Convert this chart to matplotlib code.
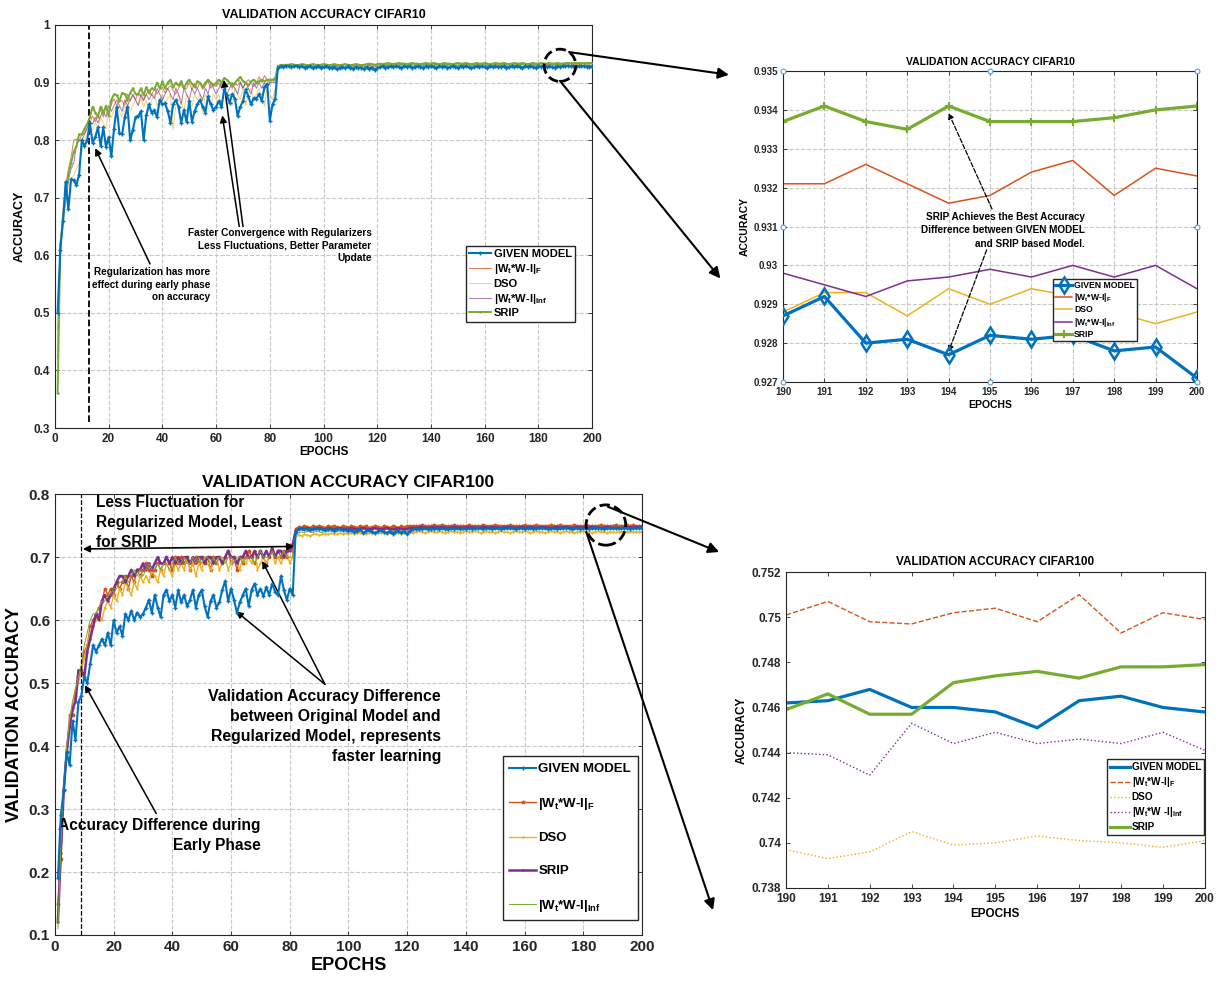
import numpy as np
import matplotlib
matplotlib.use('Agg')
import matplotlib.pyplot as plt
from matplotlib.patches import Ellipse, ConnectionPatch
from matplotlib.ticker import FormatStrFormatter

plt.rcParams['font.family'] = ['Liberation Sans', 'DejaVu Sans']
plt.rcParams['font.weight'] = 'bold'
plt.rcParams['axes.titleweight'] = 'bold'
plt.rcParams['axes.labelweight'] = 'bold'
plt.rcParams['mathtext.fontset'] = 'custom'
plt.rcParams['mathtext.rm'] = 'Liberation Sans'
plt.rcParams['mathtext.bf'] = 'Liberation Sans:bold'
plt.rcParams['mathtext.default'] = 'bf'

# ---------------- data (epochs 1..200, 10 values per row) ----------------
epochs = np.arange(1, 201)

c10_given = [
    0.500, 0.610, 0.660, 0.728, 0.680, 0.732, 0.730, 0.722, 0.740, 0.800,
    0.790, 0.800, 0.830, 0.795, 0.805, 0.822, 0.790, 0.822, 0.788, 0.805,
    0.772, 0.820, 0.857, 0.812, 0.810, 0.840, 0.858, 0.800, 0.818, 0.840,
    0.842, 0.850, 0.800, 0.843, 0.862, 0.848, 0.852, 0.840, 0.870, 0.862,
    0.864, 0.850, 0.830, 0.862, 0.870, 0.858, 0.830, 0.852, 0.832, 0.868,
    0.832, 0.850, 0.862, 0.870, 0.858, 0.848, 0.876, 0.862, 0.852, 0.858,
    0.868, 0.857, 0.888, 0.878, 0.865, 0.880, 0.872, 0.842, 0.858, 0.868,
    0.888, 0.876, 0.862, 0.873, 0.872, 0.880, 0.868, 0.892, 0.898, 0.834,
    0.862, 0.872, 0.926, 0.928, 0.927, 0.929, 0.928, 0.927, 0.928, 0.929,
    0.927, 0.928, 0.926, 0.927, 0.928, 0.925, 0.927, 0.928, 0.926, 0.927,
    0.928, 0.926, 0.925, 0.927, 0.923, 0.926, 0.927, 0.925, 0.928, 0.926,
    0.924, 0.927, 0.925, 0.926, 0.923, 0.927, 0.924, 0.926, 0.922, 0.925,
    0.927, 0.928, 0.926, 0.927, 0.928, 0.927, 0.928, 0.927, 0.926, 0.928,
    0.927, 0.928, 0.926, 0.927, 0.928, 0.927, 0.926, 0.928, 0.927, 0.928,
    0.927, 0.926, 0.928, 0.927, 0.928, 0.926, 0.927, 0.928, 0.927, 0.926,
    0.928, 0.927, 0.928, 0.927, 0.926, 0.927, 0.928, 0.927, 0.928, 0.927,
    0.926, 0.928, 0.927, 0.928, 0.927, 0.927, 0.928, 0.926, 0.927, 0.928,
    0.927, 0.928, 0.927, 0.926, 0.928, 0.927, 0.928, 0.927, 0.926, 0.928,
    0.927, 0.928, 0.927, 0.928, 0.927, 0.926, 0.928, 0.927, 0.928, 0.9287,
    0.9292, 0.9280, 0.9281, 0.9277, 0.9282, 0.9281, 0.9282, 0.9278, 0.9279, 0.9271,
]
c10_frob = [
    0.470, 0.620, 0.680, 0.720, 0.750, 0.770, 0.800, 0.802, 0.798, 0.810,
    0.812, 0.822, 0.830, 0.842, 0.832, 0.845, 0.852, 0.840, 0.858, 0.850,
    0.862, 0.872, 0.860, 0.870, 0.868, 0.860, 0.880, 0.868, 0.878, 0.870,
    0.882, 0.876, 0.868, 0.880, 0.888, 0.878, 0.890, 0.880, 0.888, 0.892,
    0.882, 0.890, 0.895, 0.886, 0.880, 0.890, 0.898, 0.888, 0.890, 0.900,
    0.888, 0.898, 0.890, 0.900, 0.888, 0.895, 0.902, 0.890, 0.898, 0.893,
    0.900, 0.890, 0.902, 0.895, 0.900, 0.890, 0.898, 0.895, 0.902, 0.890,
    0.900, 0.905, 0.898, 0.893, 0.900, 0.910, 0.900, 0.912, 0.905, 0.900,
    0.905, 0.910, 0.929, 0.931, 0.930, 0.932, 0.931, 0.930, 0.932, 0.931,
    0.930, 0.931, 0.932, 0.930, 0.931, 0.929, 0.931, 0.932, 0.930, 0.931,
    0.932, 0.930, 0.931, 0.930, 0.929, 0.931, 0.930, 0.932, 0.931, 0.930,
    0.931, 0.930, 0.932, 0.931, 0.930, 0.931, 0.929, 0.931, 0.930, 0.931,
    0.932, 0.931, 0.932, 0.931, 0.932, 0.933, 0.932, 0.931, 0.932, 0.932,
    0.931, 0.932, 0.933, 0.932, 0.931, 0.932, 0.932, 0.933, 0.931, 0.932,
    0.932, 0.931, 0.932, 0.933, 0.932, 0.932, 0.931, 0.932, 0.932, 0.933,
    0.932, 0.931, 0.932, 0.932, 0.933, 0.932, 0.931, 0.932, 0.933, 0.932,
    0.932, 0.931, 0.932, 0.933, 0.932, 0.932, 0.931, 0.932, 0.932, 0.933,
    0.932, 0.932, 0.931, 0.932, 0.933, 0.932, 0.932, 0.931, 0.932, 0.932,
    0.933, 0.932, 0.931, 0.932, 0.932, 0.933, 0.932, 0.931, 0.932, 0.9321,
    0.9321, 0.9326, 0.9321, 0.9316, 0.9318, 0.9324, 0.9327, 0.9318, 0.9325, 0.9323,
]
c10_dso = [
    0.450, 0.600, 0.660, 0.700, 0.720, 0.730, 0.740, 0.750, 0.760, 0.780,
    0.800, 0.810, 0.820, 0.818, 0.830, 0.822, 0.840, 0.830, 0.820, 0.850,
    0.840, 0.852, 0.860, 0.850, 0.840, 0.862, 0.870, 0.850, 0.860, 0.870,
    0.860, 0.872, 0.858, 0.868, 0.850, 0.870, 0.880, 0.860, 0.870, 0.880,
    0.862, 0.872, 0.880, 0.818, 0.860, 0.880, 0.870, 0.850, 0.880, 0.868,
    0.858, 0.880, 0.870, 0.880, 0.848, 0.880, 0.870, 0.860, 0.880, 0.870,
    0.880, 0.860, 0.890, 0.870, 0.880, 0.860, 0.890, 0.880, 0.870, 0.890,
    0.860, 0.880, 0.890, 0.870, 0.880, 0.890, 0.870, 0.860, 0.890, 0.880,
    0.870, 0.890, 0.927, 0.929, 0.928, 0.929, 0.930, 0.928, 0.929, 0.928,
    0.929, 0.930, 0.928, 0.929, 0.928, 0.929, 0.927, 0.929, 0.928, 0.929,
    0.928, 0.929, 0.927, 0.928, 0.929, 0.928, 0.929, 0.927, 0.928, 0.929,
    0.928, 0.929, 0.928, 0.927, 0.929, 0.928, 0.929, 0.928, 0.927, 0.929,
    0.929, 0.930, 0.929, 0.928, 0.929, 0.930, 0.929, 0.929, 0.928, 0.929,
    0.930, 0.929, 0.928, 0.929, 0.930, 0.929, 0.929, 0.928, 0.929, 0.930,
    0.929, 0.928, 0.929, 0.930, 0.929, 0.929, 0.928, 0.929, 0.930, 0.929,
    0.929, 0.928, 0.930, 0.929, 0.929, 0.928, 0.929, 0.930, 0.929, 0.928,
    0.929, 0.930, 0.929, 0.928, 0.929, 0.929, 0.930, 0.929, 0.928, 0.929,
    0.930, 0.929, 0.929, 0.928, 0.929, 0.930, 0.929, 0.928, 0.929, 0.929,
    0.930, 0.929, 0.928, 0.929, 0.929, 0.930, 0.929, 0.928, 0.929, 0.9288,
    0.9293, 0.9293, 0.9287, 0.9294, 0.9290, 0.9294, 0.9292, 0.9288, 0.9285, 0.9288,
]
c10_inf = [
    0.420, 0.610, 0.670, 0.700, 0.730, 0.750, 0.760, 0.790, 0.800, 0.800,
    0.810, 0.820, 0.830, 0.828, 0.840, 0.830, 0.842, 0.850, 0.840, 0.860,
    0.850, 0.860, 0.870, 0.860, 0.850, 0.870, 0.860, 0.870, 0.880, 0.870,
    0.860, 0.880, 0.870, 0.880, 0.870, 0.880, 0.872, 0.890, 0.880, 0.870,
    0.880, 0.890, 0.880, 0.870, 0.890, 0.880, 0.862, 0.890, 0.880, 0.870,
    0.890, 0.880, 0.890, 0.880, 0.870, 0.890, 0.880, 0.900, 0.890, 0.880,
    0.890, 0.900, 0.890, 0.880, 0.890, 0.900, 0.890, 0.880, 0.900, 0.890,
    0.900, 0.890, 0.880, 0.900, 0.890, 0.900, 0.890, 0.900, 0.890, 0.900,
    0.900, 0.900, 0.925, 0.927, 0.928, 0.927, 0.929, 0.928, 0.927, 0.928,
    0.929, 0.928, 0.927, 0.928, 0.929, 0.927, 0.928, 0.929, 0.928, 0.927,
    0.928, 0.929, 0.928, 0.927, 0.928, 0.929, 0.928, 0.927, 0.929, 0.928,
    0.927, 0.928, 0.929, 0.928, 0.927, 0.928, 0.929, 0.928, 0.927, 0.928,
    0.929, 0.930, 0.929, 0.930, 0.929, 0.930, 0.929, 0.930, 0.931, 0.930,
    0.929, 0.930, 0.931, 0.930, 0.929, 0.930, 0.930, 0.931, 0.930, 0.929,
    0.930, 0.931, 0.930, 0.929, 0.930, 0.930, 0.931, 0.930, 0.929, 0.930,
    0.930, 0.929, 0.930, 0.931, 0.930, 0.930, 0.929, 0.930, 0.931, 0.930,
    0.929, 0.930, 0.930, 0.931, 0.930, 0.929, 0.930, 0.930, 0.931, 0.930,
    0.930, 0.929, 0.930, 0.931, 0.930, 0.930, 0.929, 0.930, 0.930, 0.931,
    0.930, 0.929, 0.930, 0.930, 0.931, 0.930, 0.929, 0.930, 0.930, 0.9298,
    0.9295, 0.9292, 0.9296, 0.9297, 0.9299, 0.9297, 0.9300, 0.9297, 0.9300, 0.9294,
]
c10_srip = [
    0.360, 0.620, 0.660, 0.700, 0.740, 0.760, 0.780, 0.790, 0.810, 0.810,
    0.820, 0.828, 0.840, 0.858, 0.848, 0.840, 0.858, 0.848, 0.860, 0.842,
    0.870, 0.880, 0.878, 0.868, 0.882, 0.880, 0.870, 0.882, 0.890, 0.880,
    0.880, 0.890, 0.878, 0.892, 0.882, 0.890, 0.888, 0.900, 0.890, 0.902,
    0.890, 0.900, 0.905, 0.892, 0.900, 0.895, 0.902, 0.890, 0.900, 0.905,
    0.898, 0.892, 0.902, 0.900, 0.892, 0.900, 0.905, 0.900, 0.895, 0.900,
    0.905, 0.900, 0.908, 0.905, 0.900, 0.895, 0.900, 0.905, 0.910, 0.902,
    0.900, 0.895, 0.902, 0.905, 0.900, 0.902, 0.905, 0.902, 0.905, 0.905,
    0.905, 0.906, 0.929, 0.930, 0.931, 0.930, 0.931, 0.932, 0.931, 0.930,
    0.931, 0.932, 0.931, 0.930, 0.931, 0.932, 0.931, 0.930, 0.931, 0.932,
    0.931, 0.930, 0.931, 0.932, 0.931, 0.930, 0.931, 0.932, 0.931, 0.930,
    0.931, 0.932, 0.931, 0.930, 0.931, 0.932, 0.933, 0.932, 0.931, 0.932,
    0.933, 0.932, 0.933, 0.934, 0.933, 0.932, 0.933, 0.934, 0.933, 0.933,
    0.932, 0.933, 0.934, 0.933, 0.933, 0.932, 0.933, 0.934, 0.933, 0.933,
    0.934, 0.933, 0.932, 0.933, 0.934, 0.933, 0.933, 0.932, 0.933, 0.934,
    0.933, 0.933, 0.934, 0.933, 0.932, 0.933, 0.934, 0.933, 0.933, 0.934,
    0.933, 0.932, 0.933, 0.934, 0.933, 0.933, 0.934, 0.933, 0.932, 0.933,
    0.934, 0.933, 0.933, 0.934, 0.933, 0.932, 0.933, 0.934, 0.933, 0.933,
    0.934, 0.933, 0.933, 0.934, 0.933, 0.933, 0.934, 0.933, 0.933, 0.9337,
    0.9341, 0.9337, 0.9335, 0.9341, 0.9337, 0.9337, 0.9337, 0.9338, 0.9340, 0.9341,
]

c100_given = [
    0.190, 0.290, 0.330, 0.390, 0.370, 0.440, 0.410, 0.470, 0.480, 0.510,
    0.500, 0.530, 0.560, 0.550, 0.560, 0.570, 0.560, 0.580, 0.560, 0.600,
    0.580, 0.590, 0.575, 0.610, 0.600, 0.615, 0.600, 0.612, 0.605, 0.610,
    0.620, 0.632, 0.612, 0.640, 0.620, 0.605, 0.640, 0.648, 0.630, 0.640,
    0.620, 0.648, 0.628, 0.640, 0.622, 0.632, 0.648, 0.620, 0.640, 0.648,
    0.622, 0.605, 0.630, 0.640, 0.620, 0.628, 0.648, 0.662, 0.630, 0.650,
    0.632, 0.612, 0.628, 0.640, 0.650, 0.622, 0.648, 0.658, 0.640, 0.650,
    0.638, 0.652, 0.640, 0.658, 0.645, 0.640, 0.670, 0.648, 0.632, 0.650,
    0.640, 0.740, 0.745, 0.746, 0.744, 0.745, 0.743, 0.745, 0.746, 0.744,
    0.745, 0.743, 0.744, 0.745, 0.742, 0.744, 0.745, 0.743, 0.744, 0.742,
    0.743, 0.740, 0.742, 0.744, 0.739, 0.741, 0.743, 0.740, 0.738, 0.741,
    0.743, 0.740, 0.738, 0.741, 0.737, 0.740, 0.742, 0.739, 0.741, 0.736,
    0.742, 0.744, 0.745, 0.744, 0.745, 0.746, 0.745, 0.744, 0.745, 0.746,
    0.745, 0.746, 0.745, 0.744, 0.746, 0.745, 0.746, 0.745, 0.746, 0.745,
    0.746, 0.745, 0.746, 0.747, 0.746, 0.745, 0.746, 0.746, 0.745, 0.746,
    0.746, 0.745, 0.746, 0.746, 0.747, 0.746, 0.745, 0.746, 0.746, 0.745,
    0.746, 0.746, 0.745, 0.746, 0.747, 0.746, 0.746, 0.745, 0.746, 0.746,
    0.745, 0.746, 0.746, 0.747, 0.746, 0.745, 0.746, 0.746, 0.745, 0.746,
    0.746, 0.745, 0.746, 0.746, 0.747, 0.746, 0.745, 0.746, 0.746, 0.7462,
    0.7463, 0.7468, 0.7460, 0.7460, 0.7458, 0.7451, 0.7463, 0.7465, 0.7460, 0.7458,
]
c100_frob = [
    0.150, 0.220, 0.330, 0.390, 0.450, 0.450, 0.480, 0.510, 0.520, 0.550,
    0.560, 0.590, 0.600, 0.610, 0.620, 0.630, 0.650, 0.640, 0.650, 0.640,
    0.660, 0.650, 0.660, 0.670, 0.650, 0.670, 0.660, 0.680, 0.670, 0.680,
    0.690, 0.680, 0.670, 0.680, 0.690, 0.680, 0.690, 0.700, 0.690, 0.680,
    0.700, 0.690, 0.700, 0.690, 0.700, 0.680, 0.690, 0.700, 0.690, 0.700,
    0.690, 0.700, 0.680, 0.700, 0.690, 0.700, 0.690, 0.700, 0.710, 0.690,
    0.700, 0.680, 0.700, 0.690, 0.700, 0.710, 0.700, 0.690, 0.700, 0.710,
    0.700, 0.690, 0.700, 0.710, 0.700, 0.710, 0.700, 0.710, 0.700, 0.720,
    0.710, 0.745, 0.748, 0.747, 0.749, 0.748, 0.747, 0.749, 0.748, 0.750,
    0.748, 0.747, 0.749, 0.748, 0.750, 0.748, 0.747, 0.749, 0.748, 0.747,
    0.749, 0.748, 0.747, 0.749, 0.748, 0.750, 0.747, 0.748, 0.749, 0.748,
    0.747, 0.749, 0.748, 0.747, 0.749, 0.748, 0.747, 0.749, 0.748, 0.749,
    0.749, 0.750, 0.749, 0.750, 0.751, 0.750, 0.749, 0.750, 0.751, 0.750,
    0.750, 0.751, 0.750, 0.749, 0.750, 0.751, 0.750, 0.750, 0.749, 0.750,
    0.751, 0.750, 0.750, 0.749, 0.750, 0.751, 0.750, 0.749, 0.750, 0.751,
    0.750, 0.750, 0.749, 0.750, 0.751, 0.750, 0.750, 0.749, 0.750, 0.751,
    0.750, 0.749, 0.750, 0.751, 0.750, 0.750, 0.749, 0.750, 0.751, 0.750,
    0.750, 0.751, 0.750, 0.749, 0.750, 0.750, 0.751, 0.750, 0.749, 0.750,
    0.751, 0.750, 0.750, 0.749, 0.750, 0.751, 0.750, 0.750, 0.749, 0.7501,
    0.7507, 0.7498, 0.7497, 0.7502, 0.7504, 0.7498, 0.7510, 0.7493, 0.7502, 0.7499,
]
c100_dso = [
    0.140, 0.250, 0.340, 0.400, 0.440, 0.470, 0.490, 0.500, 0.520, 0.540,
    0.560, 0.580, 0.590, 0.600, 0.610, 0.600, 0.620, 0.630, 0.620, 0.640,
    0.630, 0.650, 0.640, 0.660, 0.650, 0.640, 0.660, 0.650, 0.670, 0.660,
    0.670, 0.660, 0.680, 0.670, 0.660, 0.680, 0.670, 0.690, 0.680, 0.670,
    0.690, 0.680, 0.690, 0.680, 0.700, 0.680, 0.690, 0.670, 0.690, 0.680,
    0.700, 0.690, 0.680, 0.690, 0.700, 0.680, 0.690, 0.700, 0.680, 0.690,
    0.700, 0.690, 0.680, 0.700, 0.690, 0.700, 0.690, 0.710, 0.680, 0.690,
    0.700, 0.690, 0.700, 0.710, 0.690, 0.700, 0.690, 0.700, 0.710, 0.690,
    0.700, 0.733, 0.735, 0.734, 0.736, 0.735, 0.734, 0.736, 0.737, 0.735,
    0.736, 0.737, 0.736, 0.738, 0.737, 0.736, 0.738, 0.737, 0.738, 0.737,
    0.738, 0.737, 0.738, 0.739, 0.738, 0.737, 0.738, 0.739, 0.738, 0.739,
    0.738, 0.739, 0.738, 0.739, 0.740, 0.739, 0.738, 0.739, 0.738, 0.739,
    0.740, 0.739, 0.740, 0.741, 0.740, 0.739, 0.740, 0.741, 0.740, 0.740,
    0.741, 0.740, 0.739, 0.740, 0.741, 0.740, 0.740, 0.739, 0.740, 0.741,
    0.740, 0.740, 0.741, 0.740, 0.739, 0.740, 0.741, 0.740, 0.740, 0.739,
    0.740, 0.741, 0.740, 0.740, 0.739, 0.740, 0.741, 0.740, 0.740, 0.741,
    0.740, 0.739, 0.740, 0.741, 0.740, 0.740, 0.739, 0.740, 0.741, 0.740,
    0.740, 0.739, 0.740, 0.741, 0.740, 0.740, 0.739, 0.740, 0.740, 0.741,
    0.740, 0.740, 0.739, 0.740, 0.741, 0.740, 0.740, 0.739, 0.740, 0.7397,
    0.7393, 0.7396, 0.7405, 0.7399, 0.7400, 0.7403, 0.7401, 0.7400, 0.7398, 0.7401,
]
c100_srip = [
    0.120, 0.230, 0.330, 0.390, 0.430, 0.460, 0.470, 0.520, 0.520, 0.510,
    0.550, 0.570, 0.590, 0.610, 0.600, 0.630, 0.640, 0.630, 0.640, 0.650,
    0.660, 0.670, 0.670, 0.660, 0.670, 0.680, 0.670, 0.680, 0.680, 0.690,
    0.680, 0.690, 0.680, 0.690, 0.700, 0.690, 0.690, 0.700, 0.690, 0.700,
    0.690, 0.700, 0.690, 0.700, 0.700, 0.690, 0.700, 0.690, 0.700, 0.700,
    0.690, 0.700, 0.700, 0.690, 0.700, 0.700, 0.690, 0.700, 0.710, 0.700,
    0.700, 0.690, 0.700, 0.700, 0.710, 0.700, 0.700, 0.710, 0.700, 0.710,
    0.700, 0.710, 0.700, 0.715, 0.700, 0.710, 0.710, 0.700, 0.710, 0.710,
    0.720, 0.742, 0.744, 0.745, 0.744, 0.746, 0.745, 0.744, 0.745, 0.746,
    0.745, 0.744, 0.746, 0.745, 0.744, 0.745, 0.746, 0.745, 0.744, 0.745,
    0.746, 0.745, 0.744, 0.745, 0.746, 0.745, 0.744, 0.745, 0.746, 0.745,
    0.744, 0.745, 0.746, 0.745, 0.744, 0.745, 0.746, 0.745, 0.744, 0.745,
    0.746, 0.747, 0.746, 0.747, 0.748, 0.747, 0.746, 0.747, 0.748, 0.747,
    0.747, 0.748, 0.747, 0.746, 0.747, 0.748, 0.747, 0.747, 0.746, 0.747,
    0.748, 0.747, 0.747, 0.746, 0.747, 0.748, 0.747, 0.747, 0.748, 0.747,
    0.747, 0.746, 0.747, 0.748, 0.747, 0.747, 0.746, 0.747, 0.748, 0.747,
    0.747, 0.748, 0.747, 0.746, 0.747, 0.748, 0.747, 0.747, 0.746, 0.747,
    0.748, 0.747, 0.747, 0.748, 0.747, 0.746, 0.747, 0.748, 0.747, 0.747,
    0.746, 0.747, 0.748, 0.747, 0.747, 0.746, 0.747, 0.748, 0.747, 0.7459,
    0.7466, 0.7457, 0.7457, 0.7471, 0.7474, 0.7476, 0.7473, 0.7478, 0.7478, 0.7479,
]
c100_inf = [
    0.110, 0.240, 0.340, 0.400, 0.440, 0.470, 0.490, 0.510, 0.530, 0.560,
    0.580, 0.600, 0.610, 0.610, 0.620, 0.630, 0.630, 0.640, 0.640, 0.650,
    0.650, 0.660, 0.660, 0.670, 0.660, 0.670, 0.680, 0.670, 0.680, 0.670,
    0.680, 0.690, 0.680, 0.680, 0.690, 0.680, 0.690, 0.690, 0.680, 0.690,
    0.700, 0.690, 0.690, 0.700, 0.690, 0.690, 0.700, 0.690, 0.700, 0.690,
    0.700, 0.700, 0.690, 0.700, 0.690, 0.700, 0.700, 0.690, 0.700, 0.700,
    0.690, 0.700, 0.700, 0.690, 0.700, 0.700, 0.700, 0.690, 0.700, 0.710,
    0.700, 0.700, 0.700, 0.710, 0.700, 0.700, 0.700, 0.710, 0.700, 0.700,
    0.700, 0.735, 0.738, 0.740, 0.739, 0.741, 0.740, 0.739, 0.741, 0.740,
    0.739, 0.741, 0.740, 0.742, 0.741, 0.740, 0.742, 0.741, 0.740, 0.742,
    0.741, 0.740, 0.742, 0.741, 0.740, 0.742, 0.741, 0.742, 0.740, 0.741,
    0.742, 0.741, 0.740, 0.742, 0.741, 0.742, 0.740, 0.741, 0.742, 0.741,
    0.743, 0.744, 0.743, 0.744, 0.745, 0.744, 0.743, 0.744, 0.745, 0.744,
    0.744, 0.745, 0.744, 0.743, 0.744, 0.745, 0.744, 0.744, 0.743, 0.744,
    0.745, 0.744, 0.744, 0.743, 0.744, 0.745, 0.744, 0.744, 0.745, 0.744,
    0.744, 0.743, 0.744, 0.745, 0.744, 0.744, 0.743, 0.744, 0.745, 0.744,
    0.744, 0.745, 0.744, 0.743, 0.744, 0.745, 0.744, 0.744, 0.743, 0.744,
    0.745, 0.744, 0.744, 0.745, 0.744, 0.743, 0.744, 0.745, 0.744, 0.744,
    0.743, 0.744, 0.745, 0.744, 0.744, 0.743, 0.744, 0.745, 0.744, 0.7440,
    0.7439, 0.7430, 0.7453, 0.7444, 0.7449, 0.7444, 0.7446, 0.7444, 0.7449, 0.7441,
]

zoom_from = 189  # index of epoch 190
tip_x = [190, 195, 200, 190, 200, 190, 195, 200]
tip_y = [0.935, 0.935, 0.935, 0.931, 0.931, 0.927, 0.927, 0.927]

lbl_f = r'|W$_t$*W-I|$_F$'
lbl_inf = r'|W$_t$*W-I|$_{Inf}$'
lbl_inf2 = r'|W$_t$*W -I|$_{Inf}$'

BLUE, ORANGE, YELLOW, PURPLE, GREEN = '#0072BD', '#D95319', '#EDB120', '#7E2F8E', '#77AC30'


def style(ax, fs, grid=True):
    if grid:
        ax.grid(True, linestyle='--', color='#c8c8c8', linewidth=0.8)
    ax.set_axisbelow(True)
    ax.tick_params(direction='in', top=True, right=True, labelsize=fs,
                   length=3, width=0.6, color='#262626', labelcolor='#262626')
    for s in ax.spines.values():
        s.set_color('#262626')
        s.set_linewidth(0.8)
    ax.yaxis.set_major_formatter(FormatStrFormatter('%g'))


def arrow(ax, head, tail, ls='-', lw=1.1, ms=10):
    ax.annotate('', xy=head, xytext=tail,
                arrowprops=dict(arrowstyle='-|>', color='k', lw=lw, ls=ls,
                                mutation_scale=ms, shrinkA=0, shrinkB=0))


fig = plt.figure(figsize=(12.21, 9.84), dpi=100)

# ---------------- top-left: CIFAR10 ----------------
ax1 = fig.add_axes([0.045, 0.565, 0.440, 0.4096])
ax1.plot(epochs, c10_given, color=BLUE, lw=1.5, marker='+', ms=3.5, label='GIVEN MODEL', zorder=5)
ax1.plot(epochs, c10_frob, color=ORANGE, lw=0.7, alpha=0.75, label=lbl_f)
ax1.plot(epochs, c10_dso, color=YELLOW, lw=0.7, alpha=0.6, label='DSO')
ax1.plot(epochs, c10_inf, color=PURPLE, lw=0.7, alpha=0.65, label=lbl_inf)
ax1.plot(epochs, c10_srip, color=GREEN, lw=1.4, marker='+', ms=2, label='SRIP', zorder=4)
ax1.set_xlim(0, 200)
ax1.set_ylim(0.3, 1.0)
ax1.set_xticks(np.arange(0, 201, 20))
ax1.set_yticks(np.arange(0.3, 1.01, 0.1))
style(ax1, 8.5)
ax1.set_title('VALIDATION ACCURACY CIFAR10', fontsize=9, pad=5)
ax1.set_xlabel('EPOCHS', fontsize=8.5, labelpad=1)
ax1.set_ylabel('ACCURACY', fontsize=9, labelpad=6)
ax1.legend(loc='upper left', bbox_to_anchor=(0.765, 0.452), fontsize=8,
           fancybox=False, edgecolor='#262626', framealpha=1, borderpad=0.3,
           labelspacing=0.25, handlelength=2.0, handletextpad=0.2, borderaxespad=0)
ax1.axvline(12.5, ymin=0.015, ymax=1, color='k', ls='--', lw=1.3)
ax1.text(57.7, 0.579, 'Regularization has more\neffect during early phase\non accuracy',
         ha='right', va='top', fontsize=7.2, linespacing=1.3)
arrow(ax1, (15, 0.786), (35.4, 0.585))
ax1.text(117.8, 0.647, 'Faster Convergence with Regularizers\nLess Fluctuations, Better Parameter\nUpdate',
         ha='right', va='top', fontsize=7.3, linespacing=1.3)
arrow(ax1, (62.8, 0.905), (70.0, 0.650))
arrow(ax1, (62.3, 0.843), (68.6, 0.650))
ax1.add_patch(Ellipse((188, 0.93), 11.8, 0.056, fill=False, ls='--', lw=2, ec='k', clip_on=False, zorder=10))

# ---------------- top-right: CIFAR10 zoom ----------------
ax2 = fig.add_axes([0.6413, 0.6118, 0.339, 0.316])
xz = epochs[zoom_from:]
ax2.plot(xz, c10_given[zoom_from:], color=BLUE, lw=2.3, marker='d', ms=8, mfc='none', mew=1.8, label='GIVEN MODEL', zorder=5)
ax2.plot(xz, c10_frob[zoom_from:], color=ORANGE, lw=1.1, label=lbl_f)
ax2.plot(xz, c10_dso[zoom_from:], color=YELLOW, lw=1.1, label='DSO')
ax2.plot(xz, c10_inf[zoom_from:], color=PURPLE, lw=1.1, label=lbl_inf)
ax2.plot(xz, c10_srip[zoom_from:], color=GREEN, lw=2.3, marker='+', ms=6, mew=1.5, label='SRIP')
ax2.scatter(tip_x, tip_y, s=12, facecolor='white', edgecolor='#5aa0d8', lw=0.8, clip_on=False, zorder=6)
ax2.set_xlim(190, 200)
ax2.set_ylim(0.927, 0.935)
ax2.set_xticks(np.arange(190, 201, 1))
ax2.set_yticks(np.arange(0.927, 0.9351, 0.001))
style(ax2, 7)
ax2.set_title('VALIDATION ACCURACY CIFAR10', fontsize=7.5, pad=4)
ax2.set_xlabel('EPOCHS', fontsize=7.5, labelpad=2)
ax2.set_ylabel('ACCURACY', fontsize=7.5, labelpad=3)
ax2.legend(loc='upper left', bbox_to_anchor=(0.652, 0.332), fontsize=6.2,
           fancybox=False, edgecolor='#262626', framealpha=1, borderpad=0.25,
           labelspacing=0.15, handlelength=2.0, handletextpad=0.2, borderaxespad=0)
ax2.text(197.3, 0.93138, 'SRIP Achieves the Best Accuracy\nDifference between GIVEN MODEL\nand SRIP based Model.',
         ha='right', va='top', fontsize=7.2, linespacing=1.45, zorder=7)
arrow(ax2, (194.0, 0.93392), (195.05, 0.93145), ls='--', lw=0.9, ms=8)
arrow(ax2, (194.0, 0.92778), (194.92, 0.93040), ls='--', lw=0.9, ms=8)

# ---------------- bottom-left: CIFAR100 ----------------
ax3 = fig.add_axes([0.045, 0.0498, 0.4808, 0.448])
ax3.plot(epochs, c100_given, color=BLUE, lw=1.5, marker='+', ms=2.5, label='GIVEN MODEL', zorder=5)
ax3.plot(epochs, c100_frob, color=ORANGE, lw=1.0, marker='*', ms=2.5, label=lbl_f)
ax3.plot(epochs, c100_dso, color=YELLOW, lw=1.0, marker='+', ms=2, label='DSO')
ax3.plot(epochs, c100_srip, color=PURPLE, lw=1.8, marker='+', ms=2, label='SRIP')
ax3.plot(epochs, c100_inf, color=GREEN, lw=0.7, label=lbl_inf)
ax3.set_xlim(0, 200)
ax3.set_ylim(0.1, 0.8)
ax3.set_xticks(np.arange(0, 201, 20))
ax3.set_yticks(np.arange(0.1, 0.81, 0.1))
style(ax3, 11)
ax3.set_title('VALIDATION ACCURACY CIFAR100', fontsize=12.5, pad=5)
ax3.set_xlabel('EPOCHS', fontsize=13, labelpad=2)
ax3.set_ylabel('VALIDATION ACCURACY', fontsize=13, labelpad=4)
ax3.legend(loc='upper left', bbox_to_anchor=(0.763, 0.405), fontsize=9.5,
           fancybox=False, edgecolor='#262626', framealpha=1, borderpad=0.5,
           labelspacing=1.55, handlelength=2.0, handletextpad=0.2, borderaxespad=0)
ax3.axvline(9, color='k', ls='--', lw=0.9)
ax3.text(14, 0.798, 'Less Fluctuation for\nRegularized Model, Least\nfor SRIP',
         ha='left', va='top', fontsize=11.2, linespacing=1.4)
ax3.annotate('', xy=(9.5, 0.713), xytext=(81.5, 0.717),
             arrowprops=dict(arrowstyle='<|-|>', color='k', lw=1.2, mutation_scale=10, shrinkA=0, shrinkB=0))
ax3.text(131.5, 0.490, 'Validation Accuracy Difference\nbetween Original Model and\nRegularized Model, represents\nfaster learning',
         ha='right', va='top', fontsize=11.4, linespacing=1.4)
arrow(ax3, (61.7, 0.614), (92, 0.498))
arrow(ax3, (70.6, 0.694), (92, 0.498))
ax3.text(70, 0.285, 'Accuracy Difference during\nEarly Phase',
         ha='right', va='top', fontsize=11.2, linespacing=1.4)
arrow(ax3, (10.2, 0.497), (34.5, 0.293))
ax3.add_patch(Ellipse((187.7, 0.751), 13.5, 0.064, fill=False, ls='--', lw=2, ec='k', clip_on=False, zorder=10))

# ---------------- bottom-right: CIFAR100 zoom ----------------
ax4 = fig.add_axes([0.6437, 0.0976, 0.343, 0.321])
ax4.plot(xz, c100_given[zoom_from:], color=BLUE, lw=2.3, label='GIVEN MODEL')
ax4.plot(xz, c100_frob[zoom_from:], color=ORANGE, lw=1.0, ls='--', label=lbl_f)
ax4.plot(xz, c100_dso[zoom_from:], color=YELLOW, lw=1.0, ls=':', label='DSO')
ax4.plot(xz, c100_inf[zoom_from:], color=PURPLE, lw=1.0, ls=':', label=lbl_inf2)
ax4.plot(xz, c100_srip[zoom_from:], color=GREEN, lw=2.3, label='SRIP')
ax4.set_xlim(190, 200)
ax4.set_ylim(0.738, 0.752)
ax4.set_xticks(np.arange(190, 201, 1))
ax4.set_yticks(np.arange(0.738, 0.7521, 0.002))
style(ax4, 8.5, grid=False)
ax4.set_title('VALIDATION ACCURACY CIFAR100', fontsize=8.5, pad=5)
ax4.set_xlabel('EPOCHS', fontsize=8.5, labelpad=2)
ax4.set_ylabel('ACCURACY', fontsize=8.5, labelpad=3)
ax4.legend(loc='upper left', bbox_to_anchor=(0.766, 0.408), fontsize=7.2,
           fancybox=False, edgecolor='#262626', framealpha=1, borderpad=0.3,
           labelspacing=0.3, handlelength=2.0, handletextpad=0.2, borderaxespad=0)

# ---------------- connector arrows between panels ----------------
for (ax_src, start, end) in [
        (ax1, (191.4, 0.953), (0.597, 0.924)),
        (ax1, (188.0, 0.903), (0.590, 0.717)),
        (ax3, (188.4, 0.780), (0.589, 0.439)),
        (ax3, (181.0, 0.740), (0.584, 0.075))]:
    con = ConnectionPatch(xyA=start, coordsA=ax_src.transData, xyB=end, coordsB='figure fraction',
                          arrowstyle='-|>', color='k', lw=1.5, mutation_scale=16, shrinkA=0, shrinkB=0)
    fig.add_artist(con)

fig.savefig('out.png', dpi=100)
